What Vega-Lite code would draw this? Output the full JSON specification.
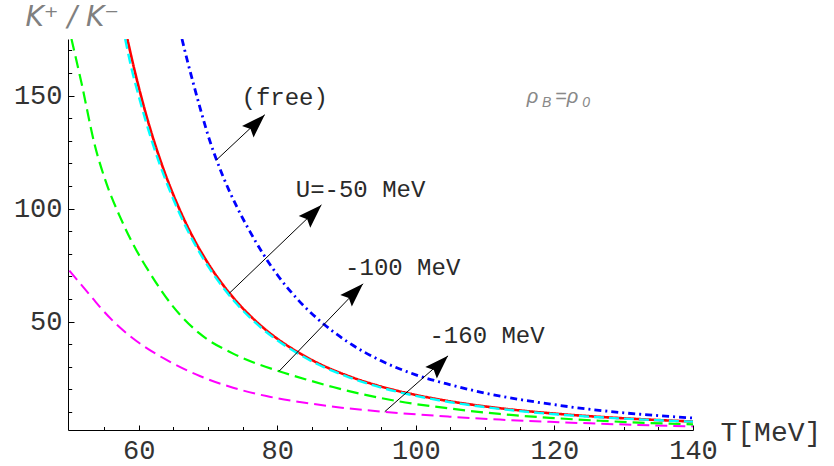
{
  "$schema": "https://vega.github.io/schema/vega-lite/v6.json",
  "width": 625,
  "height": 391,
  "autosize": {"type": "none"},
  "padding": {"left": 68, "top": 39, "right": 141, "bottom": 36},
  "background": "white",
  "config": {"view": {"stroke": null}},
  "datasets": {
    "curves": [
      {"series": "U=-160 MeV", "T": 50, "ratio": 72.5},
      {"series": "U=-160 MeV", "T": 53.43, "ratio": 60},
      {"series": "U=-160 MeV", "T": 54.39, "ratio": 56.5},
      {"series": "U=-160 MeV", "T": 56.5, "ratio": 49.6},
      {"series": "U=-160 MeV", "T": 59.2, "ratio": 42.5},
      {"series": "U=-160 MeV", "T": 64.02, "ratio": 33},
      {"series": "U=-160 MeV", "T": 68.82, "ratio": 25.9},
      {"series": "U=-160 MeV", "T": 73.63, "ratio": 20.7},
      {"series": "U=-160 MeV", "T": 78.44, "ratio": 17},
      {"series": "U=-160 MeV", "T": 83.25, "ratio": 14.4},
      {"series": "U=-160 MeV", "T": 89, "ratio": 12},
      {"series": "U=-160 MeV", "T": 95.52, "ratio": 10},
      {"series": "U=-160 MeV", "T": 104.89, "ratio": 7.9},
      {"series": "U=-160 MeV", "T": 112.1, "ratio": 6.6},
      {"series": "U=-160 MeV", "T": 119.32, "ratio": 5.6},
      {"series": "U=-160 MeV", "T": 126.5, "ratio": 4.8},
      {"series": "U=-160 MeV", "T": 133.7, "ratio": 4.1},
      {"series": "U=-160 MeV", "T": 140, "ratio": 3.6},

      {"series": "U=-100 MeV", "T": 50.3, "ratio": 175},
      {"series": "U=-100 MeV", "T": 51.75, "ratio": 155.5},
      {"series": "U=-100 MeV", "T": 53.67, "ratio": 128},
      {"series": "U=-100 MeV", "T": 55.36, "ratio": 111},
      {"series": "U=-100 MeV", "T": 57.28, "ratio": 96.5},
      {"series": "U=-100 MeV", "T": 59.2, "ratio": 84.2},
      {"series": "U=-100 MeV", "T": 61.61, "ratio": 71.5},
      {"series": "U=-100 MeV", "T": 64.97, "ratio": 56.6},
      {"series": "U=-100 MeV", "T": 68.82, "ratio": 44.6},
      {"series": "U=-100 MeV", "T": 73.63, "ratio": 35.8},
      {"series": "U=-100 MeV", "T": 80.26, "ratio": 28},
      {"series": "U=-100 MeV", "T": 84.69, "ratio": 23.9},
      {"series": "U=-100 MeV", "T": 88.05, "ratio": 21},
      {"series": "U=-100 MeV", "T": 97.68, "ratio": 14.6},
      {"series": "U=-100 MeV", "T": 104.89, "ratio": 11.5},
      {"series": "U=-100 MeV", "T": 112.1, "ratio": 9.1},
      {"series": "U=-100 MeV", "T": 119.32, "ratio": 7.4},
      {"series": "U=-100 MeV", "T": 126.5, "ratio": 6.1},
      {"series": "U=-100 MeV", "T": 133.7, "ratio": 5.1},
      {"series": "U=-100 MeV", "T": 140, "ratio": 4.5},

      {"series": "U=-50 MeV", "T": 58.37, "ratio": 175},
      {"series": "U=-50 MeV", "T": 59, "ratio": 166.4},
      {"series": "U=-50 MeV", "T": 60, "ratio": 153.8},
      {"series": "U=-50 MeV", "T": 61, "ratio": 142.3},
      {"series": "U=-50 MeV", "T": 62, "ratio": 131.9},
      {"series": "U=-50 MeV", "T": 63, "ratio": 122.5},
      {"series": "U=-50 MeV", "T": 64, "ratio": 113.9},
      {"series": "U=-50 MeV", "T": 65, "ratio": 106.1},
      {"series": "U=-50 MeV", "T": 66, "ratio": 98.9},
      {"series": "U=-50 MeV", "T": 68, "ratio": 86.3},
      {"series": "U=-50 MeV", "T": 70, "ratio": 75.8},
      {"series": "U=-50 MeV", "T": 72, "ratio": 66.9},
      {"series": "U=-50 MeV", "T": 74, "ratio": 59.3},
      {"series": "U=-50 MeV", "T": 76, "ratio": 52.8},
      {"series": "U=-50 MeV", "T": 78, "ratio": 47.2},
      {"series": "U=-50 MeV", "T": 80, "ratio": 42.4},
      {"series": "U=-50 MeV", "T": 83, "ratio": 36.4},
      {"series": "U=-50 MeV", "T": 86, "ratio": 31.4},
      {"series": "U=-50 MeV", "T": 90, "ratio": 26.2},
      {"series": "U=-50 MeV", "T": 95, "ratio": 21.2},
      {"series": "U=-50 MeV", "T": 100, "ratio": 17.5},
      {"series": "U=-50 MeV", "T": 105, "ratio": 14.65},
      {"series": "U=-50 MeV", "T": 110, "ratio": 12.43},
      {"series": "U=-50 MeV", "T": 115, "ratio": 10.67},
      {"series": "U=-50 MeV", "T": 120, "ratio": 9.26},
      {"series": "U=-50 MeV", "T": 125, "ratio": 8.12},
      {"series": "U=-50 MeV", "T": 130, "ratio": 7.18},
      {"series": "U=-50 MeV", "T": 135, "ratio": 6.4},
      {"series": "U=-50 MeV", "T": 140, "ratio": 5.75},

      {"series": "U=-50 MeV (b)", "T": 58.05, "ratio": 175},
      {"series": "U=-50 MeV (b)", "T": 59, "ratio": 161.5},
      {"series": "U=-50 MeV (b)", "T": 60, "ratio": 149.8},
      {"series": "U=-50 MeV (b)", "T": 61, "ratio": 138.9},
      {"series": "U=-50 MeV (b)", "T": 62, "ratio": 128.9},
      {"series": "U=-50 MeV (b)", "T": 63, "ratio": 119.9},
      {"series": "U=-50 MeV (b)", "T": 64, "ratio": 111.7},
      {"series": "U=-50 MeV (b)", "T": 65, "ratio": 104.1},
      {"series": "U=-50 MeV (b)", "T": 66, "ratio": 97.1},
      {"series": "U=-50 MeV (b)", "T": 68, "ratio": 84.8},
      {"series": "U=-50 MeV (b)", "T": 70, "ratio": 74.5},
      {"series": "U=-50 MeV (b)", "T": 72, "ratio": 65.8},
      {"series": "U=-50 MeV (b)", "T": 74, "ratio": 58.3},
      {"series": "U=-50 MeV (b)", "T": 76, "ratio": 51.9},
      {"series": "U=-50 MeV (b)", "T": 78, "ratio": 46.4},
      {"series": "U=-50 MeV (b)", "T": 80, "ratio": 41.7},
      {"series": "U=-50 MeV (b)", "T": 83, "ratio": 35.8},
      {"series": "U=-50 MeV (b)", "T": 86, "ratio": 30.85},
      {"series": "U=-50 MeV (b)", "T": 90, "ratio": 25.7},
      {"series": "U=-50 MeV (b)", "T": 95, "ratio": 20.75},
      {"series": "U=-50 MeV (b)", "T": 100, "ratio": 17.1},
      {"series": "U=-50 MeV (b)", "T": 105, "ratio": 14.3},
      {"series": "U=-50 MeV (b)", "T": 110, "ratio": 12.13},
      {"series": "U=-50 MeV (b)", "T": 115, "ratio": 10.37},
      {"series": "U=-50 MeV (b)", "T": 120, "ratio": 9},
      {"series": "U=-50 MeV (b)", "T": 125, "ratio": 7.9},
      {"series": "U=-50 MeV (b)", "T": 130, "ratio": 7.03},
      {"series": "U=-50 MeV (b)", "T": 135, "ratio": 6.3},
      {"series": "U=-50 MeV (b)", "T": 140, "ratio": 5.7},

      {"series": "free", "T": 66.25, "ratio": 175},
      {"series": "free", "T": 67, "ratio": 165.7},
      {"series": "free", "T": 68, "ratio": 154.1},
      {"series": "free", "T": 69, "ratio": 143},
      {"series": "free", "T": 70, "ratio": 132.5},
      {"series": "free", "T": 72, "ratio": 115.5},
      {"series": "free", "T": 74, "ratio": 101.8},
      {"series": "free", "T": 76, "ratio": 90.1},
      {"series": "free", "T": 78, "ratio": 79.7},
      {"series": "free", "T": 80, "ratio": 70.7},
      {"series": "free", "T": 83, "ratio": 59.6},
      {"series": "free", "T": 86, "ratio": 50.7},
      {"series": "free", "T": 90, "ratio": 41.3},
      {"series": "free", "T": 95, "ratio": 32.6},
      {"series": "free", "T": 100, "ratio": 26.4},
      {"series": "free", "T": 105, "ratio": 22},
      {"series": "free", "T": 110, "ratio": 18.3},
      {"series": "free", "T": 115, "ratio": 15.5},
      {"series": "free", "T": 120, "ratio": 13.2},
      {"series": "free", "T": 125, "ratio": 11.2},
      {"series": "free", "T": 130, "ratio": 9.6},
      {"series": "free", "T": 135, "ratio": 8.35},
      {"series": "free", "T": 140, "ratio": 7.3}
    ],
    "arrows": [
      {"label": "(free)", "x0": 71.23, "y0": 121.5, "x1": 78.2, "y1": 141.5},
      {"label": "U=-50 MeV", "x0": 73.08, "y0": 62.5, "x1": 86.38, "y1": 101.6},
      {"label": "-100 MeV", "x0": 80.26, "y0": 28, "x1": 92.38, "y1": 66.7},
      {"label": "-160 MeV", "x0": 95.51, "y0": 10.1, "x1": 104.65, "y1": 34.8}
    ],
    "labels": [
      {"text": "(free)", "x": 74.84, "y": 145.9},
      {"text": "U=-50 MeV", "x": 82.67, "y": 105.3},
      {"text": "-100 MeV", "x": 89.79, "y": 70.7},
      {"text": "-160 MeV", "x": 101.96, "y": 40.7}
    ],
    "rhoMain": [
      {"text": "ρ", "x": 116.0, "y": 146.8},
      {"text": "=ρ", "x": 120.1, "y": 146.8}
    ],
    "rhoSub": [
      {"text": "B", "x": 118.2, "y": 144.9},
      {"text": "0", "x": 124.0, "y": 144.9}
    ]
  },
  "layer": [
    {
      "data": {"name": "curves"},
      "transform": [{"filter": "datum.series !== 'U=-50 MeV (b)'"}],
      "mark": {"type": "line", "clip": true, "interpolate": "monotone"},
      "encoding": {
        "x": {
          "field": "T", "type": "quantitative",
          "scale": {"domain": [49.8, 140], "nice": false, "zero": false},
          "axis": {
            "orient": "bottom", "values": [60, 80, 100, 120, 140], "grid": false,
            "domainColor": "#000", "domainWidth": 1,
            "tickColor": "#000", "tickSize": -5, "tickWidth": 1,
            "labelFont": "Liberation Mono", "labelFontSize": 27, "labelColor": "#333",
            "labelPadding": 12, "labelFlush": false, "labelOverlap": false,
            "title": "T[MeV]", "titleFont": "Liberation Mono", "titleFontSize": 28,
            "titleFontWeight": "normal", "titleColor": "#333", "titleAngle": 0,
            "titleAlign": "left", "titleBaseline": "alphabetic", "titleX": 652, "titleY": 10
          }
        },
        "y": {
          "field": "ratio", "type": "quantitative",
          "scale": {"domain": [2, 175], "nice": false, "zero": false},
          "axis": {
            "orient": "left", "values": [50, 100, 150], "grid": false,
            "domainColor": "#000", "domainWidth": 1,
            "tickColor": "#000", "tickSize": -6, "tickWidth": 1,
            "labelFont": "Liberation Mono", "labelFontSize": 27, "labelColor": "#333",
            "labelPadding": 12, "labelFlush": false, "labelOverlap": false,
            "title": "K⁺ / K⁻", "titleFont": "DejaVu Sans", "titleFontStyle": "italic",
            "titleFontSize": 28, "titleFontWeight": "normal", "titleColor": "#808080",
            "titleAngle": 0, "titleAlign": "left", "titleBaseline": "alphabetic",
            "titleX": -43, "titleY": -14
          }
        },
        "color": {
          "field": "series", "type": "nominal", "legend": null,
          "scale": {
            "domain": ["free", "U=-50 MeV", "U=-50 MeV (b)", "U=-100 MeV", "U=-160 MeV"],
            "range": ["#0000ff", "#ff0000", "#00ffff", "#00ff00", "#ff00ff"]
          }
        },
        "strokeDash": {
          "field": "series", "type": "nominal", "legend": null,
          "scale": {
            "domain": ["free", "U=-50 MeV", "U=-50 MeV (b)", "U=-100 MeV", "U=-160 MeV"],
            "range": [[7, 4, 2, 4], [1, 0], [10, 5], [12, 6], [12, 6]]
          }
        },
        "strokeWidth": {
          "field": "series", "type": "ordinal", "legend": null,
          "scale": {
            "domain": ["free", "U=-50 MeV", "U=-50 MeV (b)", "U=-100 MeV", "U=-160 MeV"],
            "range": [2.8, 2, 3, 2.8, 2.8]
          }
        }
      }
    },
    {
      "data": {"name": "curves"},
      "transform": [{"filter": "datum.series === 'U=-50 MeV (b)'"}],
      "mark": {"type": "line", "clip": true, "interpolate": "monotone"},
      "encoding": {
        "x": {"field": "T", "type": "quantitative", "scale": {"domain": [49.8, 140], "nice": false, "zero": false}, "axis": null},
        "y": {"field": "ratio", "type": "quantitative", "scale": {"domain": [2, 175], "nice": false, "zero": false}, "axis": null},
        "color": {
          "field": "series", "type": "nominal", "legend": null,
          "scale": {
            "domain": ["free", "U=-50 MeV", "U=-50 MeV (b)", "U=-100 MeV", "U=-160 MeV"],
            "range": ["#0000ff", "#ff0000", "#00ffff", "#00ff00", "#ff00ff"]
          }
        },
        "strokeDash": {
          "field": "series", "type": "nominal", "legend": null,
          "scale": {
            "domain": ["free", "U=-50 MeV", "U=-50 MeV (b)", "U=-100 MeV", "U=-160 MeV"],
            "range": [[7, 4, 2, 4], [1, 0], [10, 5], [12, 6], [12, 6]]
          }
        },
        "strokeWidth": {
          "field": "series", "type": "ordinal", "legend": null,
          "scale": {
            "domain": ["free", "U=-50 MeV", "U=-50 MeV (b)", "U=-100 MeV", "U=-160 MeV"],
            "range": [2.8, 2, 3, 2.8, 2.8]
          }
        }
      }
    },
    {
      "data": {"name": "arrows"},
      "mark": {"type": "rule", "color": "#000", "strokeWidth": 1},
      "encoding": {
        "x": {
          "field": "x0", "type": "quantitative",
          "scale": {"domain": [49.8, 140], "nice": false, "zero": false},
          "axis": {
            "orient": "bottom", "values": [55, 65, 70, 75, 85, 90, 95, 105, 110, 115, 125, 130, 135],
            "labels": false, "domain": false, "grid": false, "title": null,
            "tickColor": "#000", "tickSize": -3.5, "tickWidth": 1
          }
        },
        "y": {
          "field": "y0", "type": "quantitative",
          "scale": {"domain": [2, 175], "nice": false, "zero": false},
          "axis": {
            "orient": "left", "values": [10, 20, 30, 40, 60, 70, 80, 90, 110, 120, 130, 140, 160, 170],
            "labels": false, "domain": false, "grid": false, "title": null,
            "tickColor": "#000", "tickSize": -3.7, "tickWidth": 1
          }
        },
        "x2": {"field": "x1"},
        "y2": {"field": "y1"}
      }
    },
    {
      "data": {"name": "arrows"},
      "mark": {
        "type": "point", "shape": "M0,0L0.34,1L0,0.84L-0.34,1Z",
        "angle": 45, "size": 2304, "filled": true, "color": "#000", "opacity": 1, "strokeWidth": 0
      },
      "encoding": {
        "x": {"field": "x1", "type": "quantitative", "scale": {"domain": [49.8, 140], "nice": false, "zero": false}, "axis": null},
        "y": {"field": "y1", "type": "quantitative", "scale": {"domain": [2, 175], "nice": false, "zero": false}, "axis": null}
      }
    },
    {
      "data": {"name": "labels"},
      "mark": {"type": "text", "font": "Liberation Mono", "fontSize": 24, "align": "left", "baseline": "alphabetic", "color": "#2a2a2a"},
      "encoding": {
        "x": {"field": "x", "type": "quantitative", "scale": {"domain": [49.8, 140], "nice": false, "zero": false}, "axis": null},
        "y": {"field": "y", "type": "quantitative", "scale": {"domain": [2, 175], "nice": false, "zero": false}, "axis": null},
        "text": {"field": "text"}
      }
    },
    {
      "data": {"name": "rhoMain"},
      "mark": {"type": "text", "font": "Liberation Sans", "fontStyle": "italic", "fontSize": 20, "align": "left", "baseline": "alphabetic", "color": "#888"},
      "encoding": {
        "x": {"field": "x", "type": "quantitative", "scale": {"domain": [49.8, 140], "nice": false, "zero": false}, "axis": null},
        "y": {"field": "y", "type": "quantitative", "scale": {"domain": [2, 175], "nice": false, "zero": false}, "axis": null},
        "text": {"field": "text"}
      }
    },
    {
      "data": {"name": "rhoSub"},
      "mark": {"type": "text", "font": "Liberation Sans", "fontStyle": "italic", "fontSize": 14, "align": "left", "baseline": "alphabetic", "color": "#888"},
      "encoding": {
        "x": {"field": "x", "type": "quantitative", "scale": {"domain": [49.8, 140], "nice": false, "zero": false}, "axis": null},
        "y": {"field": "y", "type": "quantitative", "scale": {"domain": [2, 175], "nice": false, "zero": false}, "axis": null},
        "text": {"field": "text"}
      }
    }
  ],
  "resolve": {"axis": {"x": "independent", "y": "independent"}}
}
